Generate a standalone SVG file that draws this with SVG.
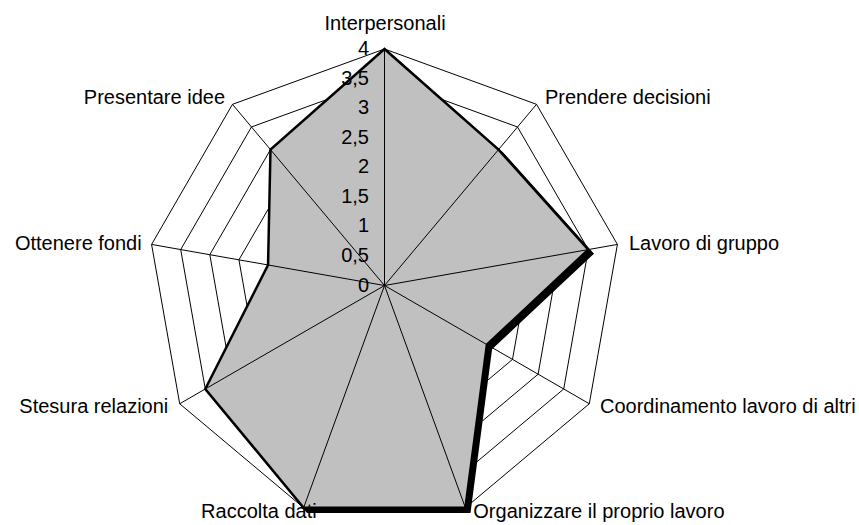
<svg xmlns="http://www.w3.org/2000/svg" width="859" height="525" viewBox="0 0 859 525">
<style>
text{font-family:"Liberation Sans",Arial,sans-serif;font-size:20px;fill:#000}
.ring{fill:none;stroke:#000;stroke-width:1}
.spoke{stroke:#000;stroke-width:1}
.tick{text-anchor:end}
</style>
<rect width="859" height="525" fill="#fff"/>
<g id="chart" transform="translate(384.5,285.5)">
<g id="rings">
<polygon class="ring" points="0,-236.5 152.02,-181.17 232.91,-41.07 204.81,118.25 80.89,222.24 -80.89,222.24 -204.81,118.25 -232.91,-41.07 -152.02,-181.17"/>
<polygon class="ring" points="0,-206.94 133.02,-158.53 203.79,-35.93 179.21,103.47 70.78,194.46 -70.78,194.46 -179.21,103.47 -203.79,-35.93 -133.02,-158.53"/>
<polygon class="ring" points="0,-177.38 114.02,-135.88 174.68,-30.8 153.61,88.69 60.67,166.68 -60.67,166.68 -153.61,88.69 -174.68,-30.8 -114.02,-135.88"/>
<polygon class="ring" points="0,-147.81 95.01,-113.23 145.57,-25.67 128.01,73.91 50.55,138.9 -50.55,138.9 -128.01,73.91 -145.57,-25.67 -95.01,-113.23"/>
<polygon class="ring" points="0,-118.25 76.01,-90.58 116.45,-20.53 102.41,59.13 40.44,111.12 -40.44,111.12 -102.41,59.13 -116.45,-20.53 -76.01,-90.58"/>
<polygon class="ring" points="0,-88.69 57.01,-67.94 87.34,-15.4 76.81,44.34 30.33,83.34 -30.33,83.34 -76.81,44.34 -87.34,-15.4 -57.01,-67.94"/>
<polygon class="ring" points="0,-59.13 38.01,-45.29 58.23,-10.27 51.2,29.56 20.22,55.56 -20.22,55.56 -51.2,29.56 -58.23,-10.27 -38.01,-45.29"/>
<polygon class="ring" points="0,-29.56 19,-22.65 29.11,-5.13 25.6,14.78 10.11,27.78 -10.11,27.78 -25.6,14.78 -29.11,-5.13 -19,-22.65"/>
</g>
<g id="series">
<polygon id="shadow" transform="translate(4,4)" points="0,-236.5 114.02,-135.88 203.79,-35.93 102.41,59.13 80.89,222.24 -80.89,222.24 -179.21,103.47 -116.45,-20.53 -114.02,-135.88" fill="#000" stroke="#000" stroke-width="2.5" stroke-linejoin="miter"/>
<polygon id="area" points="0,-236.5 114.02,-135.88 203.79,-35.93 102.41,59.13 80.89,222.24 -80.89,222.24 -179.21,103.47 -116.45,-20.53 -114.02,-135.88" fill="#c0c0c0"/>
</g>
<g id="spokes">
<line class="spoke" x1="0" y1="0" x2="0" y2="-236.5"/>
<line class="spoke" x1="0" y1="0" x2="152.02" y2="-181.17"/>
<line class="spoke" x1="0" y1="0" x2="232.91" y2="-41.07"/>
<line class="spoke" x1="0" y1="0" x2="204.81" y2="118.25"/>
<line class="spoke" x1="0" y1="0" x2="80.89" y2="222.24"/>
<line class="spoke" x1="0" y1="0" x2="-80.89" y2="222.24"/>
<line class="spoke" x1="0" y1="0" x2="-204.81" y2="118.25"/>
<line class="spoke" x1="0" y1="0" x2="-232.91" y2="-41.07"/>
<line class="spoke" x1="0" y1="0" x2="-152.02" y2="-181.17"/>
</g>
<polygon id="outline" points="0,-236.5 114.02,-135.88 203.79,-35.93 102.41,59.13 80.89,222.24 -80.89,222.24 -179.21,103.47 -116.45,-20.53 -114.02,-135.88" fill="none" stroke="#000" stroke-width="2.5" stroke-linejoin="miter"/>
</g>
<g id="ticks">
<text class="tick" x="369" y="55">4</text>
<text class="tick" x="369" y="84.6">3,5</text>
<text class="tick" x="369" y="114.1">3</text>
<text class="tick" x="369" y="143.7">2,5</text>
<text class="tick" x="369" y="173.3">2</text>
<text class="tick" x="369" y="202.8">1,5</text>
<text class="tick" x="369" y="232.4">1</text>
<text class="tick" x="369" y="261.9">0,5</text>
<text class="tick" x="369" y="291.5">0</text>
</g>
<g id="labels">
<text x="385" y="30" text-anchor="middle">Interpersonali</text>
<text x="545" y="104.3">Prendere decisioni</text>
<text x="629" y="250">Lavoro di gruppo</text>
<text x="600" y="413.3">Coordinamento lavoro di altri</text>
<text x="473.3" y="518.3">Organizzare il proprio lavoro</text>
<text x="316.7" y="518.3" text-anchor="end">Raccolta dati</text>
<text x="168.3" y="413.3" text-anchor="end">Stesura relazioni</text>
<text x="141.7" y="250" text-anchor="end">Ottenere fondi</text>
<text x="225" y="104.3" text-anchor="end">Presentare idee</text>
</g>
</svg>
